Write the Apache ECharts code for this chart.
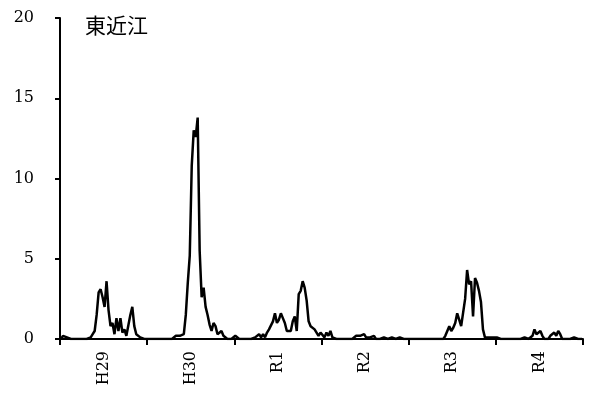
<!DOCTYPE html>
<html lang="ja">
<head>
    <meta charset="UTF-8">
    <title>東近江</title>
    <script src="https://cdn.jsdelivr.net/npm/echarts@6/dist/echarts.min.js"></script>
    <style>
        html, body { margin: 0; padding: 0; background: #fff; }
        #chart { width: 589px; height: 394px; }
    </style>
</head>
<body>
    <div id="chart"></div>
    <script>
        // 年度ラベル
        var years = ['H29', 'H30', 'R1', 'R2', 'R3', 'R4'];
        var yTicks = [0, 5, 10, 15, 20];

        // 各年度 44 点
        var h29 = [0, 0.2, 0.3, 0.1, 0, 0, 0, 0, 0, 0, 0, 0, 0, 0, 0, 0.1, 0.3, 0.5, 1.5, 2.9,
                   3.1, 2.6, 2.0, 3.6, 1.8, 0.8, 1.0, 0.3, 1.3, 0.5, 1.3, 0.4, 0.6, 0.2, 0.3, 1.5,
                   2.0, 0.8, 0.3, 0.4, 0.1, 0.1, 0, 0];
        var h30 = [0, 0, 0, 0, 0, 0, 0, 0, 0, 0, 0, 0, 0, 0.1, 0.2, 0.1, 0.2, 0.1, 0.3, 1.5,
                   3.5, 5.2, 10.8, 13.0, 12.6, 13.8, 5.5, 2.6, 3.2, 2.0, 1.5, 0.9, 0.5, 1.0, 0.8, 0.3,
                   0.2, 0.5, 0.2, 0.2, 0, 0, 0, 0];
        var r1 = [0.2, 0.1, 0, 0, 0, 0, 0, 0, 0, 0, 0.1, 0.2, 0.3, 0.1, 0.3, 0.1, 0.4, 0.6, 0.7, 1.1,
                  1.6, 1.0, 1.2, 1.6, 1.3, 1.0, 0.5, 0.5, 0.5, 1.1, 1.4, 0.5, 2.8, 3.0, 3.6, 3.2,
                  2.4, 1.1, 0.8, 0.8, 0.6, 0.5, 0.2, 0.4];
        var r2 = [0.3, 0.1, 0.4, 0.2, 0.5, 0.1, 0, 0, 0, 0, 0, 0, 0, 0, 0, 0, 0.1, 0.2, 0.1, 0.2,
                  0.1, 0.3, 0.1, 0.2, 0.1, 0, 0.2, 0, 0, 0, 0, 0.1, 0, 0, 0, 0.1, 0, 0,
                  0, 0.1, 0, 0, 0, 0];
        var r3 = [0, 0, 0, 0, 0, 0, 0, 0, 0, 0, 0, 0, 0, 0, 0, 0, 0, 0, 0.2, 0.1,
                  0.8, 0.5, 0.7, 1.0, 1.6, 1.2, 0.8, 0.7, 2.5, 4.3, 3.4, 3.6, 1.4, 3.8, 3.5, 3.0,
                  2.3, 0.6, 0.1, 0.2, 0.1, 0.2, 0.1, 0];
        var r4 = [0.1, 0.1, 0, 0, 0, 0, 0, 0, 0, 0, 0, 0, 0, 0, 0.1, 0, 0, 0, 0.2, 0.6,
                  0.3, 0.2, 0.5, 0.2, 0, 0, 0, 0.2, 0.1, 0.4, 0.2, 0.5, 0.3, 0, 0, 0, 0, 0,
                  0, 0.1, 0, 0, 0, 0];

        var perYear = 44;
        var values = h29.concat(h30, r1, r2, r3, r4);
        var points = values.map(function (v, i) { return [i + 0.5, v]; });

        var serif = '"DejaVu Serif", "Liberation Serif", serif';

        var chart = echarts.init(document.getElementById('chart'));
        chart.setOption({
            animation: false,
            title: {
                text: '東近江',
                left: 80,
                top: 10,
                textStyle: {
                    fontSize: 21,
                    fontWeight: 'normal',
                    color: '#000',
                    fontFamily: '"Noto Sans CJK JP", sans-serif'
                }
            },
            grid: { left: 60, right: 6, top: 18, bottom: 55 },
            xAxis: [
                {
                    type: 'category',
                    data: years,
                    boundaryGap: true,
                    axisLine: { lineStyle: { color: '#000', width: 2 } },
                    axisTick: { show: true, length: 6, lineStyle: { color: '#000', width: 2 } },
                    axisLabel: {
                        rotate: 90,
                        margin: 12,
                        color: '#000',
                        fontSize: 16,
                        fontFamily: serif
                    },
                    splitLine: { show: false }
                },
                {
                    type: 'value',
                    min: 0,
                    max: years.length * perYear,
                    show: false,
                    splitLine: { show: false }
                }
            ],
            yAxis: {
                type: 'value',
                min: yTicks[0],
                max: yTicks[yTicks.length - 1],
                interval: 5,
                axisLine: { show: true, lineStyle: { color: '#000', width: 2 } },
                axisTick: { show: true, length: 5, lineStyle: { color: '#000', width: 2 } },
                axisLabel: {
                    margin: 26,
                    color: '#000',
                    fontSize: 16,
                    fontFamily: serif
                },
                splitLine: { show: false }
            },
            series: [
                {
                    type: 'line',
                    xAxisIndex: 1,
                    data: points,
                    showSymbol: false,
                    lineStyle: { color: '#000', width: 2.5 },
                    z: 3
                }
            ]
        });
    </script>
</body>
</html>
